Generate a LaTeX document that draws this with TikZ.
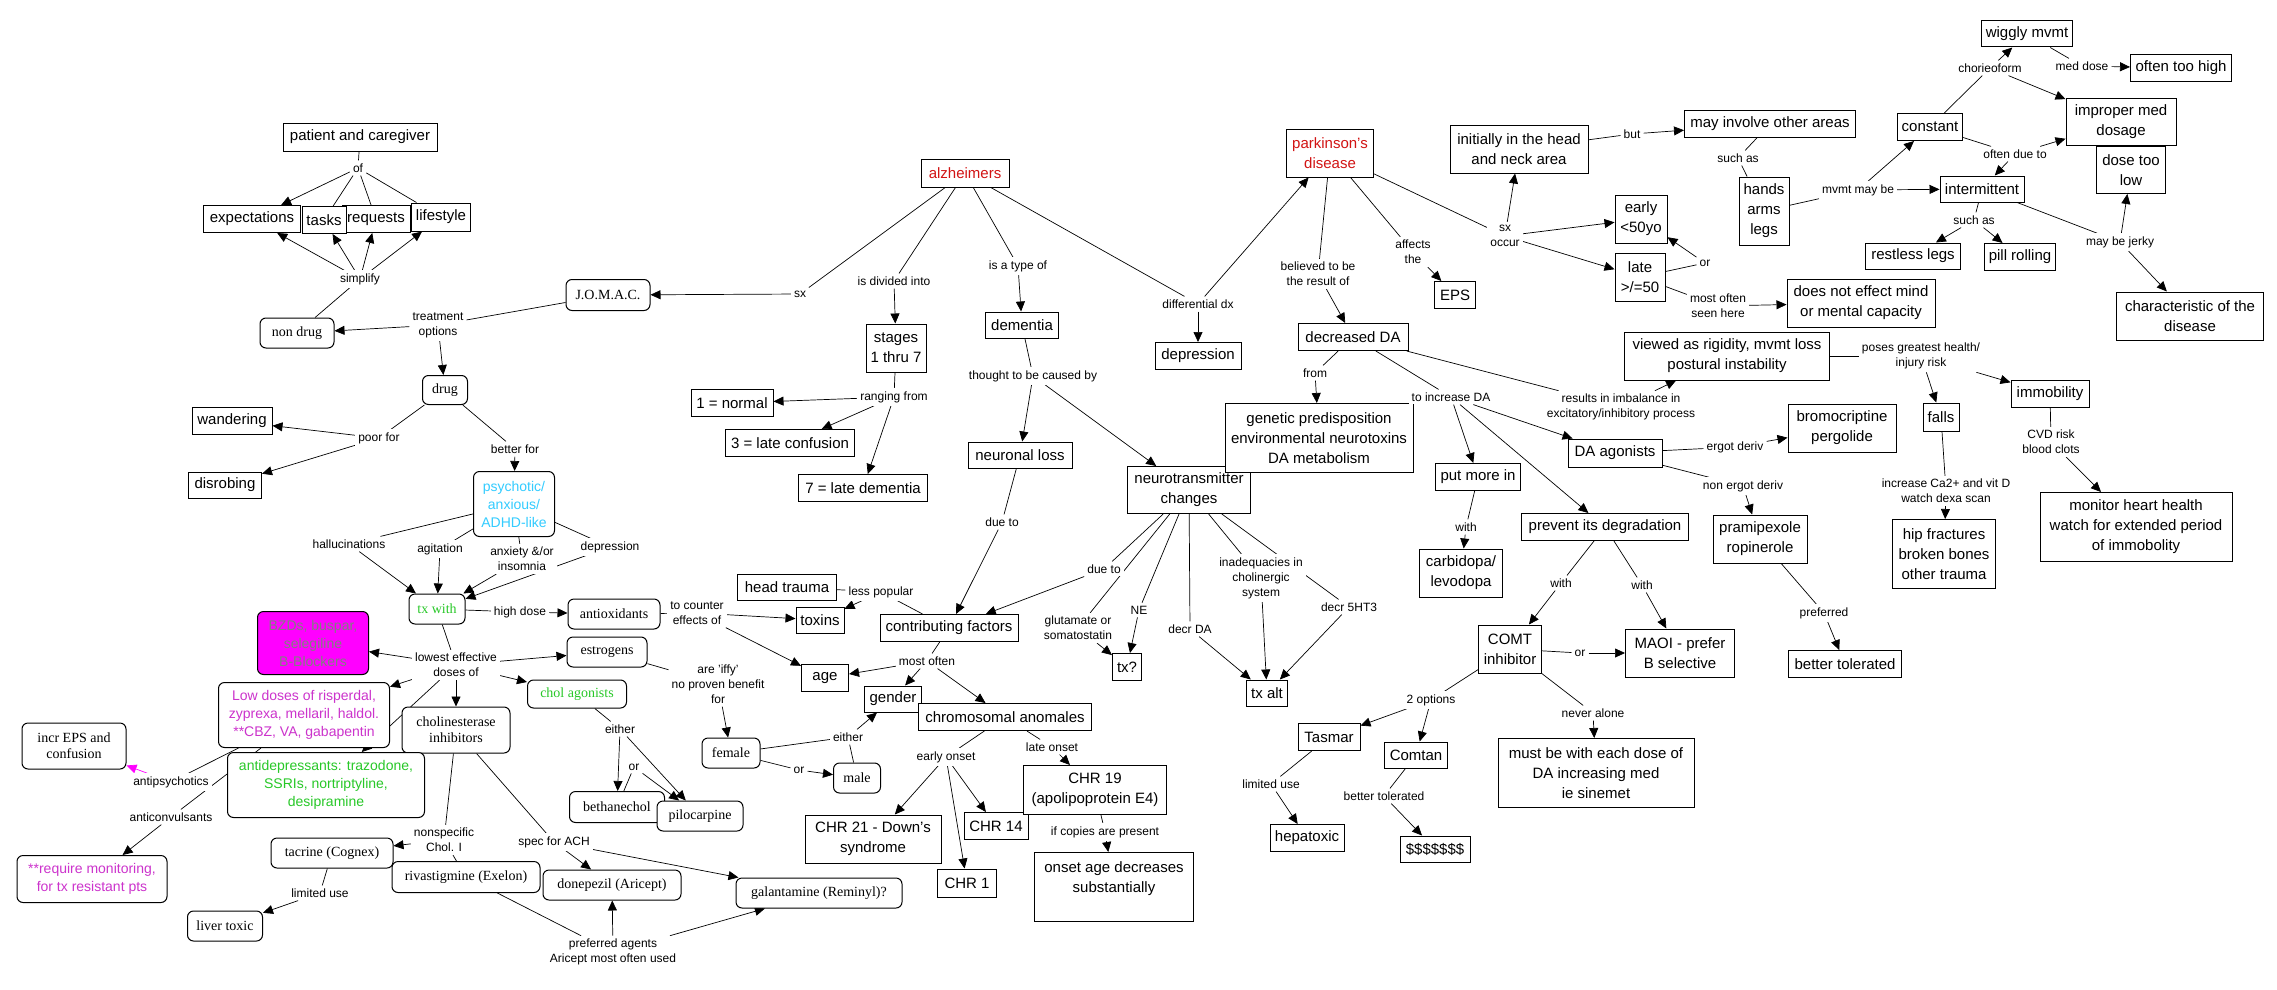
\documentclass[tikz,border=0pt]{standalone}
\usepackage{fontspec}
\setmainfont{Liberation Sans}
\newfontfamily\cmserif{Liberation Serif}
\usetikzlibrary{arrows.meta,backgrounds}
\definecolor{alzRed}{RGB}{210,20,20}
\definecolor{cmCyan}{RGB}{51,204,255}
\definecolor{cmGreen}{RGB}{40,200,40}
\definecolor{cmMagenta}{RGB}{204,51,204}
\definecolor{bzdFill}{RGB}{255,0,255}
\definecolor{bzdText}{RGB}{128,128,128}

\begin{document}
\begin{tikzpicture}[x=1pt, y=-1pt]
\tikzstyle{concept} = [draw, line width=1pt, fill=white, inner sep=2pt, align=center, font=\fontsize{15}{20}\selectfont]
\tikzstyle{rconcept} = [concept, rounded corners=6pt, font=\fontsize{14}{18}\selectfont]
\tikzstyle{sconcept} = [concept, rounded corners=6pt, font=\cmserif\fontsize{14}{16}\selectfont]
\tikzstyle{phrase} = [fill=white, inner sep=3pt, align=center, font=\fontsize{12}{15}\selectfont]
\tikzstyle{link} = [line width=0.7pt]
\tikzstyle{arrow} = [-{Triangle[length=10pt,width=9pt]}, line width=0.7pt]

\useasboundingbox (0,0) rectangle (2277,990);

% Treatment side
\node[concept, minimum width=154, minimum height=28] (pc) at (360,137) {patient and caregiver};
\node[phrase] (of1) at (358,168) {of};
\node[concept, minimum width=97, minimum height=27] (ex) at (252,219) {expectations};
\node[concept, minimum width=68, minimum height=27] (rq) at (376,219) {requests};
\node[concept, minimum width=44, minimum height=27] (ta) at (324,220) {tasks};
\node[concept, minimum width=59, minimum height=28] (lf) at (441,217) {lifestyle};
\node[phrase] (simp) at (360,279) {simplify};
\node[sconcept, minimum width=74, minimum height=30] (nd) at (297,333) {non drug};
\node[phrase] (tro) at (438,325) {treatment\\options};
\node[sconcept, minimum width=84, minimum height=31] (jo) at (608,295) {J.O.M.A.C.};
\node[sconcept, minimum width=45, minimum height=29] (dr) at (445,390) {drug};
\node[concept, minimum width=80, minimum height=27] (wa) at (232,421) {wandering};
\node[phrase] (pf) at (379,438) {poor for};
\node[phrase] (bf) at (515,449) {better for};
\node[concept, minimum width=73, minimum height=26] (ds) at (225,485) {disrobing};
\node[rconcept, text=cmCyan, minimum width=81, minimum height=65] (ps) at (514,504) {psychotic/\\anxious/\\ADHD-like};
\node[phrase] (hall) at (349,544) {hallucinations};
\node[phrase] (agi) at (440,549) {agitation};
\node[phrase] (anx) at (522,559) {anxiety \&/or\\insomnia};
\node[phrase] (dep) at (610,547) {depression};
\node[sconcept, text=cmGreen, minimum width=56, minimum height=30] (tw) at (437,609) {tx with};
\node[phrase] (hd) at (520,612) {high dose};
\node[sconcept, minimum width=92, minimum height=30] (ao) at (614,614) {antioxidants};
\node[phrase] (tce) at (697,613) {to counter\\effects of};
\node[sconcept, minimum width=80, minimum height=30] (es) at (607,652) {estrogens};
\node[sconcept, text=cmGreen, minimum width=99, minimum height=28] (cag) at (577,694) {chol agonists};
\node[rconcept, fill=bzdFill, text=bzdText, minimum width=111, minimum height=63] (bz) at (313,643) {BZDs, buspar,\\selegiline\\B-Blockers};
\node[phrase] (led) at (456,665) {lowest effective\\doses of};
\node[rconcept, text=cmMagenta, minimum width=171, minimum height=65] (ld) at (304,715) {Low doses of risperdal,\\zyprexa, mellaril, haldol.\\**CBZ, VA, gabapentin};
\node[sconcept, minimum width=108, minimum height=46] (ci) at (456,730) {cholinesterase\\inhibitors};
\node[rconcept, text=cmGreen, minimum width=197, minimum height=65] (ad) at (326,785) {antidepressants: trazodone,\\SSRIs, nortriptyline,\\desipramine};
\node[sconcept, minimum width=104, minimum height=46] (ie) at (74,746) {incr EPS and\\confusion};
\node[phrase] (aps) at (171,782) {antipsychotics};
\node[phrase] (acv) at (171,817) {anticonvulsants};
\node[rconcept, text=cmMagenta, minimum width=150, minimum height=47] (rm) at (92,879) {**require monitoring,\\for tx resistant pts};

% Cholinesterase inhibitors
\node[sconcept, minimum width=122, minimum height=30] (tac) at (332,853) {tacrine (Cognex)};
\node[phrase] (nsc) at (444,840) {nonspecific\\Chol. I};
\node[phrase] (sach) at (554,842) {spec for ACH};
\node[sconcept, minimum width=148, minimum height=31] (riv) at (466,877) {rivastigmine (Exelon)};
\node[sconcept, minimum width=138, minimum height=30] (don) at (612,885) {donepezil (Aricept)};
\node[sconcept, minimum width=166, minimum height=30] (gal) at (819,893) {galantamine (Reminyl)?};
\node[phrase] (lu1) at (320,893) {limited use};
\node[sconcept, minimum width=75, minimum height=30] (lt) at (225,926) {liver toxic};
\node[phrase] (pa) at (613,952) {preferred agents\\Aricept most often used};

% Chol agonists and estrogens
\node[phrase] (ei1) at (620,729) {either};
\node[phrase] (or1) at (634,767) {or};
\node[sconcept, minimum width=95, minimum height=31] (be) at (617,807) {bethanechol};
\node[sconcept, minimum width=86, minimum height=30] (pi) at (700,816) {pilocarpine};
\node[phrase] (iffy) at (718,684) {are 'iffy'\\no proven benefit\\for};
\node[sconcept, minimum width=58, minimum height=30] (fe) at (731,753) {female};
\node[phrase] (ei2) at (848,737) {either};
\node[phrase] (or2) at (799,770) {or};
\node[sconcept, minimum width=47, minimum height=30] (ma) at (857,778) {male};

% Contributing factors
\node[concept, minimum width=99, minimum height=26] (ht) at (787,587) {head trauma};
\node[phrase] (lp) at (881,592) {less popular};
\node[concept, minimum width=48, minimum height=26] (tx) at (820,620) {toxins};
\node[concept, minimum width=138, minimum height=27] (cf) at (949,628) {contributing factors};
\node[concept, minimum width=47, minimum height=27] (ag) at (825,678) {age};
\node[phrase] (mo) at (927,661) {most often};
\node[concept, minimum width=57, minimum height=26] (ge) at (893,699) {gender};
\node[concept, minimum width=173, minimum height=27] (ca) at (1005,717) {chromosomal anomales};
\node[phrase] (eo) at (946,757) {early onset};
\node[phrase] (lo) at (1052,747) {late onset};
\node[concept, minimum width=136, minimum height=48] (c21) at (873,839) {CHR 21 - Down's\\syndrome};
\node[concept, minimum width=64, minimum height=27] (c14) at (996,826) {CHR 14};
\node[concept, minimum width=143, minimum height=49] (c19) at (1095,790) {CHR 19\\(apolipoprotein E4)};
\node[phrase] (icp) at (1105,832) {if copies are present};
\node[concept, minimum width=159, minimum height=69] (oa) at (1114,887) {onset age decreases\\substantially\\~};
\node[concept, minimum width=59, minimum height=28] (c1) at (967,883) {CHR 1};

% Alzheimers
\node[concept, text=alzRed, minimum width=88, minimum height=28] (al) at (965,173) {alzheimers};
\node[phrase] (sx1) at (800,294) {sx};
\node[phrase] (idi) at (894,281) {is divided into};
\node[phrase] (ito) at (1018,266) {is a type of};
\node[phrase] (ddx) at (1198,304) {differential dx};
\node[concept, minimum width=60, minimum height=48] (st) at (896,348) {stages\\1 thru 7};
\node[phrase] (rf) at (894,397) {ranging from};
\node[concept, minimum width=82, minimum height=27] (n1) at (732,403) {1 = normal};
\node[concept, minimum width=129, minimum height=27] (n3) at (790,443) {3 = late confusion};
\node[concept, minimum width=129, minimum height=27] (n7) at (863,488) {7 = late dementia};
\node[concept, minimum width=73, minimum height=26] (dm) at (1022,325) {dementia};
\node[phrase] (tcb) at (1033,376) {thought to be caused by};
\node[concept, minimum width=104, minimum height=26] (nl) at (1020,455) {neuronal loss};
\node[phrase] (dt1) at (1002,522) {due to};
\node[concept, minimum width=123, minimum height=47] (ntc) at (1189,490) {neurotransmitter\\changes};
\node[phrase] (dt2) at (1104,569) {due to};
\node[phrase] (glu) at (1078,628) {glutamate or\\somatostatin};
\node[phrase] (ne) at (1139,610) {NE};
\node[concept, minimum width=29, minimum height=27] (txq) at (1127,667) {tx?};
\node[phrase] (dda) at (1190,629) {decr DA};
\node[phrase] (inad) at (1261,578) {inadequacies in\\cholinergic\\system};
\node[phrase] (d5) at (1349,607) {decr 5HT3};
\node[concept, minimum width=41, minimum height=26] (txa) at (1267,693) {tx alt};
\node[concept, minimum width=86, minimum height=27] (dep2) at (1198,356) {depression};

% Parkinson's
\node[concept, text=alzRed, minimum width=87, minimum height=48] (pd) at (1330,153) {parkinson's\\disease};
\node[phrase] (btb) at (1318,274) {believed to be\\the result of};
\node[phrase] (aft) at (1413,252) {affects\\the};
\node[concept, minimum width=41, minimum height=27] (eps) at (1455,295) {EPS};
\node[phrase] (sxo) at (1505,236) {sx\\occur};
\node[concept, minimum width=138, minimum height=48] (ini) at (1519,149) {initially in the head\\and neck area};
\node[phrase] (but) at (1632,134) {but};
\node[concept, minimum width=171, minimum height=27] (mio) at (1770,124) {may involve other areas};
\node[phrase] (sa1) at (1738,158) {such as};
\node[concept, minimum width=50, minimum height=68] (hnd) at (1764,211) {hands\\arms\\legs};
\node[concept, minimum width=52, minimum height=48] (ear) at (1641,219) {early\\<50yo};
\node[concept, minimum width=50, minimum height=48] (lat) at (1640,277) {late\\>/=50};
\node[phrase] (or3) at (1705,263) {or};
\node[phrase] (most) at (1718,306) {most often\\seen here};
\node[concept, minimum width=148, minimum height=48] (dne) at (1861,303) {does not effect mind\\or mental capacity};
\node[concept, minimum width=110, minimum height=27] (dda2) at (1353,337) {decreased DA};
\node[phrase] (fr) at (1315,373) {from};
\node[concept, minimum width=188, minimum height=69] (gp) at (1319,438) {genetic predisposition\\environmental neurotoxins\\DA metabolism};
\node[phrase] (tid) at (1451,397) {to increase DA};
\node[phrase] (rii) at (1621,407) {results in imbalance in\\excitatory/inhibitory process};
\node[concept, minimum width=205, minimum height=48] (vr) at (1727,356) {viewed as rigidity, mvmt loss\\postural instability};
\node[phrase] (pg) at (1921,356) {poses greatest health/\\injury risk};
\node[concept, minimum width=36, minimum height=28] (fa) at (1941,417) {falls};
\node[concept, minimum width=78, minimum height=27] (im) at (2050,394) {immobility};
\node[phrase] (cvd) at (2051,442) {CVD risk\\blood clots};
\node[concept, minimum width=192, minimum height=69] (mh) at (2136,527) {monitor heart health\\watch for extended period\\of immobolity};
\node[phrase] (ica) at (1946,491) {increase Ca2+ and vit D\\watch dexa scan};
\node[concept, minimum width=103, minimum height=69] (hf) at (1944,554) {hip fractures\\broken bones\\other trauma};
\node[concept, minimum width=94, minimum height=28] (daa) at (1615,453) {DA agonists};
\node[phrase] (erg) at (1735,447) {ergot deriv};
\node[concept, minimum width=108, minimum height=48] (bp) at (1842,428) {bromocriptine\\pergolide};
\node[phrase] (neg) at (1743,486) {non ergot deriv};
\node[concept, minimum width=94, minimum height=48] (pr) at (1760,539) {pramipexole\\ropinerole};
\node[phrase] (pref) at (1824,613) {preferred};
\node[concept, minimum width=113, minimum height=27] (bt) at (1845,664) {better tolerated};
\node[concept, minimum width=85, minimum height=27] (pmi) at (1478,477) {put more in};
\node[phrase] (w1) at (1466,527) {with};
\node[concept, minimum width=83, minimum height=48] (cl) at (1461,573) {carbidopa/\\levodopa};
\node[concept, minimum width=167, minimum height=27] (pid) at (1605,527) {prevent its degradation};
\node[phrase] (w2) at (1561,583) {with};
\node[phrase] (w3) at (1642,585) {with};
\node[concept, minimum width=63, minimum height=48] (comt) at (1510,649) {COMT\\inhibitor};
\node[phrase] (or4) at (1580,653) {or};
\node[concept, minimum width=109, minimum height=48] (mao) at (1680,653) {MAOI - prefer\\B selective};
\node[phrase] (opt) at (1431,700) {2 options};
\node[concept, minimum width=62, minimum height=27] (tas) at (1329,737) {Tasmar};
\node[concept, minimum width=63, minimum height=26] (com) at (1416,755) {Comtan};
\node[phrase] (nal) at (1593,713) {never alone};
\node[concept, minimum width=196, minimum height=69] (mbw) at (1596,773) {must be with each dose of\\DA increasing med\\ie sinemet};
\node[phrase] (lu2) at (1271,784) {limited use};
\node[concept, minimum width=74, minimum height=27] (hep) at (1307,838) {hepatoxic};
\node[phrase] (btl) at (1384,796) {better tolerated};
\node[concept, minimum width=70, minimum height=26] (dol) at (1435,849) {\$\$\$\$\$\$\$};

% Movement
\node[concept, minimum width=91, minimum height=26] (wig) at (2027,34) {wiggly mvmt};
\node[phrase] (cho) at (1990,68) {chorieoform};
\node[phrase] (mdl) at (2082,66) {med dose};
\node[concept, minimum width=101, minimum height=27] (oth) at (2181,68) {often too high};
\node[concept, minimum width=65, minimum height=27] (con) at (1930,127) {constant};
\node[concept, minimum width=69, minimum height=47] (dtl) at (2131,170) {dose too\\low};
\node[concept, minimum width=110, minimum height=47] (imp) at (2121,122) {improper med\\dosage};
\node[phrase] (odt) at (2015,154) {often due to};
\node[phrase] (mmb) at (1858,190) {mvmt may be};
\node[concept, minimum width=84, minimum height=26] (int) at (1982,189) {intermittent};
\node[phrase] (sa2) at (1974,220) {such as};
\node[concept, minimum width=95, minimum height=26] (rl) at (1913,256) {restless legs};
\node[concept, minimum width=71, minimum height=27] (pil) at (2020,257) {pill rolling};
\node[phrase] (mbj) at (2120,242) {may be jerky};
\node[concept, minimum width=147, minimum height=48] (cha) at (2190,316) {characteristic of the\\disease};

% Links
\begin{scope}[on background layer]
\draw[link] (pc) -- (of1);
\draw[arrow] (of1) -- (ex);
\draw[link] (of1) -- (ta);
\draw[link] (of1) -- (rq);
\draw[link] (of1) -- (lf);
\draw[arrow] (simp) -- (ex);
\draw[arrow] (simp) -- (ta);
\draw[arrow] (simp) -- (rq);
\draw[arrow] (simp) -- (lf);
\draw[link] (nd) -- (simp);
\draw[link] (jo) -- (tro);
\draw[arrow] (tro) -- (nd);
\draw[arrow] (tro) -- (dr);
\draw[link] (dr) -- (pf);
\draw[arrow] (pf) -- (wa);
\draw[arrow] (pf) -- (ds);
\draw[link] (dr) -- (bf);
\draw[arrow] (bf) -- (ps);
\draw[link] (ps) -- (hall);
\draw[link] (ps) -- (agi);
\draw[link] (ps) -- (anx);
\draw[link] (ps) -- (dep);
\draw[arrow] (hall) -- (tw);
\draw[arrow] (agi) -- (tw);
\draw[arrow] (anx) -- (tw);
\draw[arrow] (dep) -- (tw);
\draw[link] (tw) -- (hd);
\draw[arrow] (hd) -- (ao);
\draw[link] (ao) -- (tce);
\draw[arrow] (tce) -- (tx);
\draw[arrow] (tce) -- (ag);
\draw[link] (tw) -- (led);
\draw[arrow] (led) -- (bz);
\draw[arrow] (led) -- (ld);
\draw[arrow] (led) -- (ad);
\draw[arrow] (led) -- (ci);
\draw[arrow] (led) -- (es);
\draw[arrow] (led) -- (cag);
\draw[link] (ld) -- (aps);
\draw[link] (ld) -- (acv);
\draw[arrow, bzdFill] (aps) -- (ie);
\draw[arrow] (acv) -- (rm);
\draw[link] (ci) -- (nsc);
\draw[arrow] (nsc) -- (tac);
\draw[link] (nsc) -- (riv);
\draw[link] (ci) -- (sach);
\draw[arrow] (sach) -- (don);
\draw[arrow] (sach) -- (gal);
\draw[link] (tac) -- (lu1);
\draw[arrow] (lu1) -- (lt);
\draw[link] (riv) -- (pa);
\draw[arrow] (pa) -- (don);
\draw[arrow] (pa) -- (gal);
\draw[link] (es) -- (iffy);
\draw[arrow] (iffy) -- (fe);
\draw[link] (cag) -- (ei1);
\draw[arrow] (ei1) -- (be);
\draw[arrow] (ei1) -- (pi);
\draw[link] (be) -- (or1);
\draw[arrow] (or1) -- (pi);
\draw[link] (fe) -- (ei2);
\draw[arrow] (ei2) -- (ge);
\draw[link] (ei2) -- (ma);
\draw[link] (fe) -- (or2);
\draw[arrow] (or2) -- (ma);
\draw[link] (cf) -- (lp);
\draw[arrow] (lp) -- (tx);
\draw[link] (lp) -- (ht);
\draw[link] (cf) -- (mo);
\draw[arrow] (mo) -- (ag);
\draw[arrow] (mo) -- (ge);
\draw[arrow] (mo) -- (ca);
\draw[link] (ca) -- (eo);
\draw[arrow] (eo) -- (c21);
\draw[arrow] (eo) -- (c1);
\draw[arrow] (eo) -- (c14);
\draw[link] (ca) -- (lo);
\draw[arrow] (lo) -- (c19);
\draw[link] (c19) -- (icp);
\draw[arrow] (icp) -- (oa);
% alzheimers
\draw[link] (al) -- (sx1);
\draw[arrow] (sx1) -- (jo);
\draw[link] (al) -- (idi);
\draw[arrow] (idi) -- (st);
\draw[link] (al) -- (ito);
\draw[arrow] (ito) -- (dm);
\draw[link] (al) -- (ddx);
\draw[arrow] (ddx) -- (dep2);
\draw[arrow] (ddx) -- (pd);
\draw[link] (st) -- (rf);
\draw[arrow] (rf) -- (n1);
\draw[arrow] (rf) -- (n3);
\draw[arrow] (rf) -- (n7);
\draw[link] (dm) -- (tcb);
\draw[arrow] (tcb) -- (nl);
\draw[arrow] (tcb) -- (ntc);
\draw[link] (nl) -- (dt1);
\draw[arrow] (dt1) -- (cf);
\draw[link] (ntc) -- (dt2);
\draw[arrow] (dt2) -- (cf);
\draw[link] (ntc) -- (glu);
\draw[arrow] (glu) -- (txq);
\draw[link] (ntc) -- (ne);
\draw[arrow] (ne) -- (txq);
\draw[link] (ntc) -- (dda);
\draw[arrow] (dda) -- (txa);
\draw[link] (ntc) -- (inad);
\draw[arrow] (inad) -- (txa);
\draw[link] (ntc) -- (d5);
\draw[arrow] (d5) -- (txa);
% parkinson's
\draw[link] (pd) -- (btb);
\draw[arrow] (btb) -- (dda2);
\draw[link] (pd) -- (aft);
\draw[arrow] (aft) -- (eps);
\draw[link] (pd) -- (sxo);
\draw[arrow] (sxo) -- (ini);
\draw[arrow] (sxo) -- (ear);
\draw[arrow] (sxo) -- (lat);
\draw[link] (ini) -- (but);
\draw[arrow] (but) -- (mio);
\draw[link] (mio) -- (sa1);
\draw[link] (sa1) -- (hnd);
\draw[link] (hnd) -- (mmb);
\draw[arrow] (mmb) -- (con);
\draw[arrow] (mmb) -- (int);
\draw[link] (con) -- (cho);
\draw[arrow] (cho) -- (wig);
\draw[arrow] (cho) -- (imp);
\draw[link] (wig) -- (mdl);
\draw[arrow] (mdl) -- (oth);
\draw[link] (con) -- (odt);
\draw[arrow] (odt) -- (imp);
\draw[arrow] (odt) -- (int);
\draw[link] (int) -- (sa2);
\draw[arrow] (sa2) -- (rl);
\draw[arrow] (sa2) -- (pil);
\draw[link] (int) -- (mbj);
\draw[arrow] (mbj) -- (dtl);
\draw[arrow] (mbj) -- (cha);
\draw[link] (lat) -- (or3);
\draw[arrow] (or3) -- (ear);
\draw[link] (lat) -- (most);
\draw[arrow] (most) -- (dne);
\draw[link] (dda2) -- (fr);
\draw[arrow] (fr) -- (gp);
\draw[link] (dda2) -- (tid);
\draw[arrow] (tid) -- (pmi);
\draw[arrow] (tid) -- (pid);
\draw[arrow] (tid) -- (daa);
\draw[link] (dda2) -- (rii);
\draw[arrow] (rii) -- (vr);
\draw[link] (vr) -- (pg);
\draw[arrow] (pg) -- (fa);
\draw[arrow] (pg) -- (im);
\draw[link] (fa) -- (ica);
\draw[arrow] (ica) -- (hf);
\draw[link] (im) -- (cvd);
\draw[arrow] (cvd) -- (mh);
\draw[link] (daa) -- (erg);
\draw[arrow] (erg) -- (bp);
\draw[link] (daa) -- (neg);
\draw[arrow] (neg) -- (pr);
\draw[link] (pr) -- (pref);
\draw[arrow] (pref) -- (bt);
\draw[link] (pmi) -- (w1);
\draw[arrow] (w1) -- (cl);
\draw[link] (pid) -- (w2);
\draw[arrow] (w2) -- (comt);
\draw[link] (pid) -- (w3);
\draw[arrow] (w3) -- (mao);
\draw[link] (comt) -- (or4);
\draw[arrow] (or4) -- (mao);
\draw[link] (comt) -- (opt);
\draw[arrow] (opt) -- (tas);
\draw[arrow] (opt) -- (com);
\draw[link] (comt) -- (nal);
\draw[arrow] (nal) -- (mbw);
\draw[link] (tas) -- (lu2);
\draw[arrow] (lu2) -- (hep);
\draw[link] (com) -- (btl);
\draw[arrow] (btl) -- (dol);
\end{scope}
\end{tikzpicture}
\end{document}
